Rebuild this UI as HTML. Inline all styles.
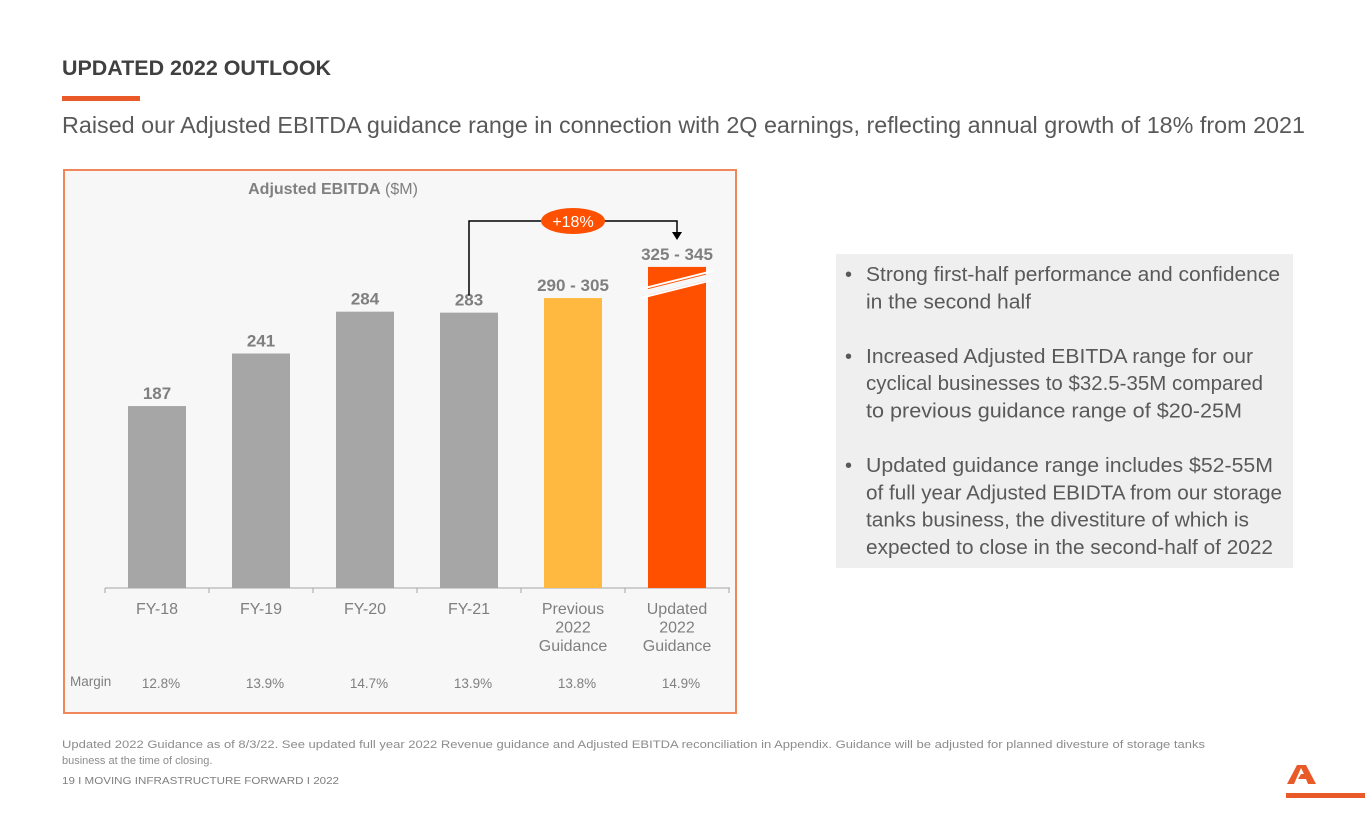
<!DOCTYPE html>
<html><head><meta charset="utf-8"><style>
html,body{margin:0;padding:0;background:#fff;width:1365px;height:829px;overflow:hidden}
svg{display:block;font-family:"Liberation Sans",sans-serif}
</style></head><body>
<svg id="s" width="1365" height="829" viewBox="0 0 1365 829">
<text x="62" y="75" font-size="21" font-weight="bold" fill="#404040" textLength="269" lengthAdjust="spacingAndGlyphs">UPDATED 2022 OUTLOOK</text>
<rect x="62" y="96" width="78" height="5" fill="#ea5a28"/>
<text x="62" y="133" font-size="23" fill="#595959" textLength="1243" lengthAdjust="spacingAndGlyphs">Raised our Adjusted EBITDA guidance range in connection with 2Q earnings, reflecting annual growth of 18% from 2021</text>
<rect x="64" y="170" width="672" height="543" fill="#f7f7f7" stroke="#f0875a" stroke-width="2"/>
<text x="333" y="194" font-size="16" text-anchor="middle" fill="#808080"><tspan font-weight="bold">Adjusted EBITDA</tspan> ($M)</text>
<g id="chart"></g>
<rect x="836" y="254" width="457" height="314" fill="#efefef"/>
<g id="bullets" font-size="20" fill="#595959"></g>
<text x="62" y="748" font-size="11" fill="#8c8c8c" textLength="1143" lengthAdjust="spacingAndGlyphs">Updated 2022 Guidance as of 8/3/22.  See updated full year 2022 Revenue guidance and Adjusted EBITDA reconciliation in Appendix. Guidance will be adjusted for planned divesture of storage tanks</text>
<text x="62" y="764" font-size="11" fill="#8c8c8c">business at the time of closing.</text>
<text x="62" y="784" font-size="10" fill="#7f7f7f" textLength="277" lengthAdjust="spacingAndGlyphs">19  I   MOVING INFRASTRUCTURE FORWARD   I   2022</text>
<g>
<polygon points="1297,765 1306,765 1316,784 1308,784 1306,779 1298,779 1301,774 1304,774 1301,768 1294,784 1287,784" fill="#ea5a28"/>
<rect x="1286" y="793" width="79" height="5" fill="#ea5a28"/>
</g>
</svg>
<script>
const categories = ["FY-18","FY-19","FY-20","FY-21","Previous|2022|Guidance","Updated|2022|Guidance"];
const plotValues = [187, 241, 284, 283, 298, 330];
const valueLabels = ["187","241","284","283","290 - 305","325 - 345"];
const margins = ["12.8%","13.9%","14.7%","13.9%","13.8%","14.9%"];
const barColors = ["#a6a6a6","#a6a6a6","#a6a6a6","#a6a6a6","#ffb940","#ff5000"];
const growthLabel = "+18%";
const bulletLines = [
 ["Strong first-half performance and confidence","in the second half"],
 ["Increased Adjusted EBITDA range for our","cyclical businesses to $32.5-35M compared","to previous guidance range of $20-25M"],
 ["Updated guidance range includes $52-55M","of full year Adjusted EBIDTA from our storage","tanks business, the divestiture of which is","expected to close in the second-half of 2022"]
];
const bulletWidths = [[414,165],[387,397,376],[407,416,383,407]];

const NS="http://www.w3.org/2000/svg";
function mk(tag, attrs, parent, text){const e=document.createElementNS(NS,tag);for(const k in attrs)e.setAttribute(k,attrs[k]);if(text!==undefined)e.textContent=text;parent.appendChild(e);return e;}
const g=document.getElementById('chart');
const baseY=588, scale=0.973, x0=157, step=104, bw=58;
const xs=i=>x0+i*step;
const ys=v=>baseY-v*scale;
// axis
let ax=mk('line',{x1:105,y1:baseY,x2:730,y2:baseY,stroke:'#a6a6a6','stroke-width':1},g);


for(let i=0;i<=categories.length;i++){
 const tx=xs(i)-step/2;
 const t=mk('line',{x1:tx,y1:baseY,x2:tx,y2:baseY+5,stroke:'#a6a6a6'},g);
 
 
}
categories.forEach((c,i)=>{
 const cx=xs(i), top=ys(plotValues[i]);
 const b=mk('rect',{x:cx-bw/2,y:top,width:bw,height:baseY-top,fill:barColors[i]},g);
 
 
 const vl=mk('text',{x:cx,y:top-7,'text-anchor':'middle','font-size':17,'font-weight':'bold',fill:'#7f7f7f'},g,valueLabels[i]);
 
 
 const parts=c.split('|');
 const cl=mk('text',{'text-anchor':'middle','font-size':16,fill:'#7f7f7f'},g);
 
 
 parts.forEach((p,j)=>mk('tspan',{x:cx,y:614+j*18.5},cl,p));
 const ml=mk('text',{x:cx+4,y:688,'text-anchor':'middle','font-size':13.5,fill:'#7f7f7f'},g,margins[i]);
 
 
});
const mlab=mk('text',{x:70,y:686,'font-size':13.5,fill:'#7f7f7f'},g,'Margin');


// break marks on last bar
const li=categories.length-1, lx=xs(li), ly=ys(plotValues[li])+20;
const brk=mk('g',{},g);


mk('polygon',{points:`${lx-36},${ly+4} ${lx+36},${ly-14} ${lx+36},${ly-8} ${lx-36},${ly+10}`,fill:'#f7f7f7'},brk);
mk('line',{x1:lx-36,y1:ly+2,x2:lx+36,y2:ly-16,stroke:'#ffffff','stroke-width':2},brk);
mk('line',{x1:lx-36,y1:ly+11,x2:lx+36,y2:ly-7,stroke:'#ffffff','stroke-width':2},brk);
// growth arrow
const ay=221, fx=xs(3), tx2=xs(li);
const arr=mk('path',{d:`M${fx},${ys(plotValues[3])-17} V${ay} H${tx2} V${ay+12}`,fill:'none',stroke:'#000','stroke-width':1.5},g);


const ah=mk('polygon',{points:`${tx2-5},${ay+11} ${tx2+5},${ay+11} ${tx2},${ay+19}`,fill:'#000'},g);


const px=(xs(4));
const pill=mk('ellipse',{cx:px,cy:ay,rx:32,ry:13,fill:'#ff5000'},g);


const pt=mk('text',{x:px,y:ay+6,'text-anchor':'middle','font-size':16,fill:'#fff'},g,growthLabel);


// bullets
const bg=document.getElementById('bullets');
let y=281;
bulletLines.forEach((lines,bi)=>{
 const dot=mk('text',{x:845,y:y},bg,'•');
 
 
 lines.forEach((ln,j)=>{
  const t=mk('text',{x:866,y:y,textLength:bulletWidths[bi][j],lengthAdjust:'spacingAndGlyphs'},bg,ln);
  
  
  y+=27.3;
 });
 y+=27.3;
});
</script>
</body></html>
